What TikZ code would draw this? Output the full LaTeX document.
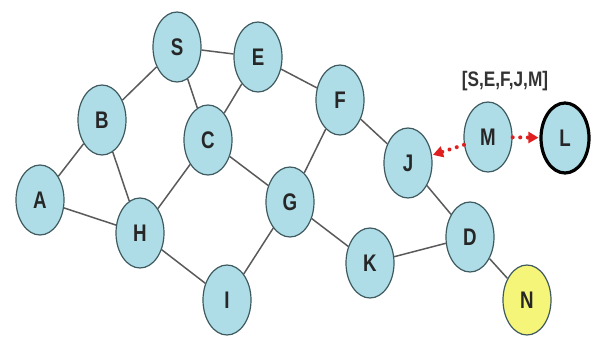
\documentclass[tikz,border=0pt]{standalone}
\usepackage{fontspec}
\setmainfont{Liberation Sans}
\usetikzlibrary{shapes.geometric,arrows.meta}
\definecolor{nodefill}{HTML}{AEDDE8}
\definecolor{nodeedge}{HTML}{3E5A5E}
\definecolor{linkcol}{HTML}{5A5A5A}
\definecolor{nfill}{HTML}{F5F57A}
\definecolor{dotred}{HTML}{E02020}
\tikzset{
  nd/.style={ellipse, draw=nodeedge, line width=1.2pt, fill=nodefill,
    minimum width=48pt, minimum height=70pt, inner sep=0pt,
    font=\fontsize{24}{24}\selectfont\bfseries, text=black!85},
  link/.style={draw=linkcol, line width=1.5pt},
  reach/.style={draw=dotred, line width=4pt, line cap=round, dash pattern=on 0.1pt off 7.5pt,
    -{Triangle[length=10pt,width=11pt,line cap=butt]}, shorten >=1pt}
}
\newcommand{\nl}[1]{\scalebox{0.78}[1]{#1}}
\begin{document}
\begin{tikzpicture}[x=1pt,y=-1pt]
\useasboundingbox (0,0) rectangle (592,337);
\node[nd] (S) at (177,47) {\nl{S}};
\node[nd] (E) at (258,57) {\nl{E}};
\node[nd] (B) at (102,120) {\nl{B}};
\node[nd] (C) at (208,140) {\nl{C}};
\node[nd] (A) at (40,200) {\nl{A}};
\node[nd] (H) at (140,233) {\nl{H}};
\node[nd] (G) at (290,202) {\nl{G}};
\node[nd] (I) at (227,300) {\nl{I}};
\node[nd] (F) at (340,100) {\nl{F}};
\node[nd] (J) at (408,163) {\nl{J}};
\node[nd] (M) at (488,137) {\nl{M}};
\node[nd, draw=black, line width=3.2pt] (L) at (565,138) {\nl{L}};
\node[nd] (D) at (470,237) {\nl{D}};
\node[nd] (K) at (370,263) {\nl{K}};
\node[nd, fill=nfill] (N) at (527,300) {\nl{N}};
\node[font=\fontsize{21}{21}\selectfont\bfseries, text=black!80] (lab) at (505,81) {\scalebox{0.82}[1]{[S,E,F,J,M]}};
\draw[link] (S) -- (E);
\draw[link] (S) -- (B);
\draw[link] (S) -- (C);
\draw[link] (E) -- (C);
\draw[link] (E) -- (F);
\draw[link] (B) -- (A);
\draw[link] (B) -- (H);
\draw[link] (A) -- (H);
\draw[link] (H) -- (C);
\draw[link] (H) -- (I);
\draw[link] (C) -- (G);
\draw[link] (G) -- (F);
\draw[link] (G) -- (I);
\draw[link] (G) -- (K);
\draw[link] (F) -- (J);
\draw[link] (J) -- (D);
\draw[link] (K) -- (D);
\draw[link] (D) -- (N);
\draw[reach] (M) -- (J);
\draw[reach] (M) -- (L);
\end{tikzpicture}
\end{document}
